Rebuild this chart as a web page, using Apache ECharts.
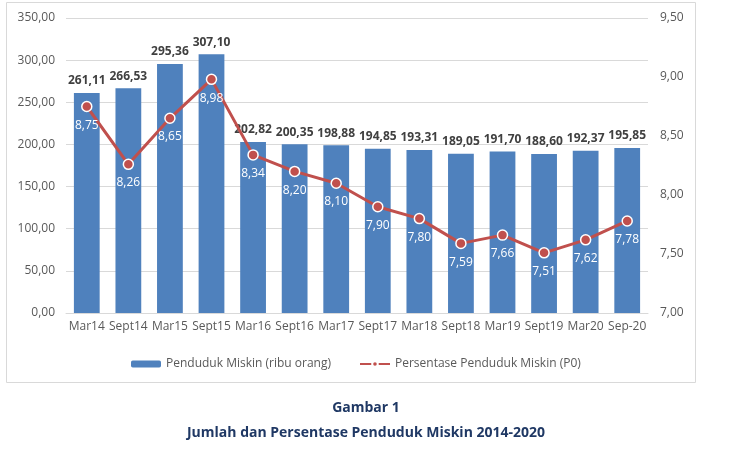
<!DOCTYPE html>
<html>
<head>
<meta charset="utf-8">
<script src="https://cdn.jsdelivr.net/npm/echarts@6/dist/echarts.min.js"></script>
<style>
  html, body { margin: 0; padding: 0; background: #fff; }
  #chart { width: 732px; height: 463px; }
</style>
</head>
<body>
<div id="chart"></div>
<script>
const periods = ['Mar14', 'Sept14', 'Mar15', 'Sept15', 'Mar16', 'Sept16', 'Mar17', 'Sept17', 'Mar18', 'Sept18', 'Mar19', 'Sept19', 'Mar20', 'Sep-20'];
const pendudukMiskin = [261.11, 266.53, 295.36, 307.10, 202.82, 200.35, 198.88, 194.85, 193.31, 189.05, 191.70, 188.60, 192.37, 195.85];
const persentaseP0 = [8.75, 8.26, 8.65, 8.98, 8.34, 8.20, 8.10, 7.90, 7.80, 7.59, 7.66, 7.51, 7.62, 7.78];

const fontFam = '"Open Sans", "Noto Sans", sans-serif';

// angka pakai koma desimal
function fmt(v) {
    return Number(v).toFixed(2).replace('.', ',');
}

var myChart = echarts.init(document.getElementById('chart'));

var option = {
    animation: false,
    textStyle: { fontFamily: fontFam },
    title: [{
        text: 'Gambar 1',
        left: 'center',
        top: 396,
        textStyle: { color: '#1f3864', fontSize: 14, fontWeight: 'bold', fontFamily: fontFam }
    }, {
        text: 'Jumlah dan Persentase Penduduk Miskin 2014-2020',
        left: 'center',
        top: 421,
        textStyle: { color: '#1f3864', fontSize: 14, fontWeight: 'bold', fontFamily: fontFam }
    }],
    graphic: [{
        type: 'rect',
        shape: { x: 6.5, y: 2.5, width: 689, height: 380 },
        style: { fill: 'none', stroke: '#d9d9d9', lineWidth: 1 },
        z: -1
    }],
    legend: {
        left: 126,
        top: 353,
        itemGap: 28,
        itemWidth: 30,
        itemHeight: 7,
        textStyle: { color: '#595959', fontSize: 12, fontFamily: fontFam },
        data: ['Penduduk Miskin (ribu orang)', 'Persentase Penduduk Miskin (P0)']
    },
    grid: {
        left: 66,
        right: 84,
        top: 18,
        bottom: 150
    },
    xAxis: {
        type: 'category',
        data: periods,
        axisTick: { show: false },
        axisLine: { lineStyle: { color: '#d9d9d9' } },
        axisLabel: { color: '#595959', fontSize: 12, margin: 8, interval: 0 }
    },
    yAxis: [{
        type: 'value',
        min: 0,
        max: 350,
        interval: 50,
        axisLabel: { color: '#595959', fontSize: 12, margin: 11, formatter: fmt },
        splitLine: { lineStyle: { color: '#d9d9d9' } }
    }, {
        type: 'value',
        min: 7,
        max: 9.5,
        interval: 0.5,
        axisLabel: { color: '#595959', fontSize: 12, margin: 12, formatter: fmt },
        splitLine: { show: false }
    }],
    series: [{
        name: 'Penduduk Miskin (ribu orang)',
        type: 'bar',
        data: pendudukMiskin,
        barWidth: '62%',
        itemStyle: { color: '#4f81bd' },
        label: {
            show: true,
            position: 'top',
            distance: 6,
            color: '#404040',
            fontSize: 12,
            fontWeight: 'bold',
            formatter: function (p) { return fmt(p.value); }
        }
    }, {
        name: 'Persentase Penduduk Miskin (P0)',
        type: 'line',
        yAxisIndex: 1,
        data: persentaseP0,
        symbol: 'circle',
        symbolSize: 10,
        lineStyle: { color: '#c0504d', width: 3 },
        itemStyle: { color: '#c0504d', borderColor: '#fff', borderWidth: 1.5 },
        label: {
            show: true,
            position: 'bottom',
            distance: 7,
            color: '#ffffff',
            fontSize: 12,
            formatter: function (p) { return fmt(p.value); }
        }
    }]
};

myChart.setOption(option);
</script>
</body>
</html>
